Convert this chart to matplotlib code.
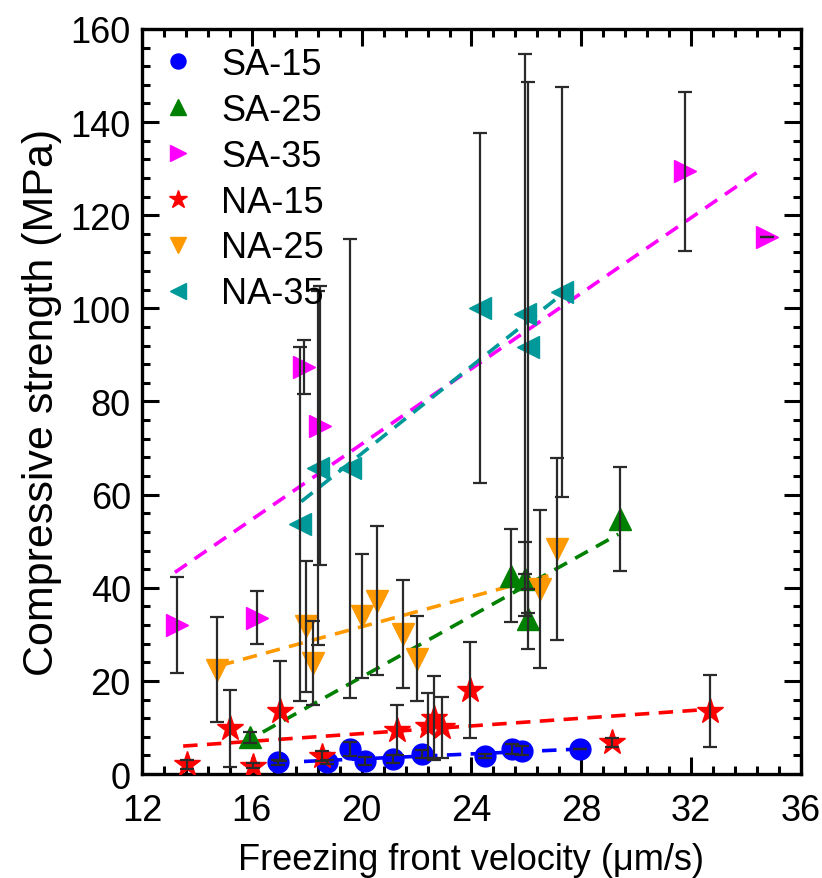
import matplotlib.pyplot as plt
import numpy as np
from matplotlib.lines import Line2D
from matplotlib.ticker import AutoMinorLocator, MultipleLocator

plt.rcParams['font.family'] = ['Liberation Sans', 'DejaVu Sans']

# data: velocity (um/s), strength (MPa), error (MPa)
sa15_x = [16.96, 18.73, 19.57, 20.12, 21.15, 22.2, 24.49, 25.46, 25.83, 27.95]
sa15_y = [2.5, 2.6, 5.4, 2.8, 3.2, 4.3, 3.9, 5.4, 5.0, 5.4]
sa15_e = [0.5, 0.5, 1.5, 0.8, 0.8, 0.8, 0.5, 1.0, 1.0, 0.0]

sa25_x = [15.93, 25.43, 25.95, 26.07, 29.4]
sa25_y = [7.9, 42.6, 41.9, 33.3, 54.8]
sa25_e = [1.2, 10.0, 8.0, 6.5, 11.2]

sa35_x = [13.26, 16.18, 17.9, 18.48, 31.77, 34.75]
sa35_y = [32.0, 33.6, 87.5, 74.8, 129.4, 115.3]
sa35_e = [10.3, 5.6, 5.8, 30.0, 17.0, 0.0]

na15_x = [13.63, 15.2, 16.03, 17.03, 18.54, 21.27, 22.43, 22.63, 22.91, 23.94, 29.1, 32.68]
na15_y = [2.1, 9.8, 1.8, 13.6, 3.9, 9.5, 10.4, 12.0, 10.0, 18.1, 6.8, 13.5]
na15_e = [1.0, 8.3, 0.5, 10.7, 1.0, 5.4, 7.0, 9.0, 6.5, 10.3, 1.0, 7.7]

na25_x = [14.72, 17.96, 18.24, 20.0, 20.57, 21.52, 22.03, 26.49, 27.1]
na25_y = [22.4, 31.7, 23.9, 34.0, 37.2, 30.1, 24.8, 39.7, 48.3]
na25_e = [11.3, 14.0, 9.0, 13.3, 16.0, 11.6, 9.2, 17.0, 19.5]

na35_x = [17.75, 18.42, 19.57, 24.31, 25.95, 26.07, 27.28]
na35_y = [53.7, 65.7, 65.7, 100.0, 98.8, 91.6, 103.5]
na35_e = [38.0, 38.0, 49.3, 37.6, 55.8, 57.0, 44.0]

# linear fit lines, end points
fit_sa15 = ([17.9, 27.7], [2.7, 5.3])
fit_sa25 = ([16.4, 29.35], [9.0, 51.5])
fit_sa35 = ([13.2, 34.4], [43.3, 129.2])
fit_na15 = ([13.5, 32.9], [6.0, 14.0])
fit_na25 = ([14.84, 26.8], [23.3, 42.6])
fit_na35 = ([17.8, 27.5], [58.5, 104.0])

series = [
    ("SA-15", sa15_x, sa15_y, sa15_e, fit_sa15, "#0000ff", "o", 15),
    ("SA-25", sa25_x, sa25_y, sa25_e, fit_sa25, "#008000", "^", 16),
    ("SA-35", sa35_x, sa35_y, sa35_e, fit_sa35, "#ff00ff", ">", 16),
    ("NA-15", na15_x, na15_y, na15_e, fit_na15, "#ff0000", "*", 19),
    ("NA-25", na25_x, na25_y, na25_e, fit_na25, "#ff9900", "v", 16),
    ("NA-35", na35_x, na35_y, na35_e, fit_na35, "#009999", "<", 16),
]

fig = plt.figure(figsize=(8.22, 8.79), dpi=100)
ax = fig.add_axes([0.1727, 0.1183, 0.8018, 0.8476])

handles = []
for name, x, y, e, fit, c, m, ms in series:
    ax.plot(fit[0], fit[1], "--", color=c, lw=2.6, dashes=(4, 2.6), zorder=2)
    ax.plot(x, y, linestyle="none", marker=m, color=c, ms=ms, zorder=3)
    ax.errorbar(x, y, yerr=e, fmt="none", ecolor="#2a2a2a", elinewidth=1.6,
                capsize=5, capthick=1.6, zorder=4)
    handles.append(Line2D([], [], linestyle="none", marker=m, color=c,
                          ms=ms * 0.72, label=name))

ax.set_xlim(12, 36)
ax.set_ylim(0, 160)
ax.xaxis.set_major_locator(MultipleLocator(4))
ax.yaxis.set_major_locator(MultipleLocator(20))
ax.xaxis.set_minor_locator(AutoMinorLocator(5))
ax.yaxis.set_minor_locator(AutoMinorLocator(5))
ax.tick_params(which="both", direction="in", top=True, right=True,
               labelsize=26, width=2.2)
ax.tick_params(which="major", length=12)
ax.tick_params(which="minor", length=6)
ax.tick_params(axis="x", which="major", pad=14)
ax.tick_params(axis="y", which="major", pad=8)
for s in ax.spines.values():
    s.set_linewidth(2.4)

ax.set_xlabel("Freezing front velocity (\u03bcm/s)", fontsize=26, labelpad=10)
ax.set_ylabel("Compressive strength (MPa)", fontsize=31, labelpad=6)

ax.legend(handles=handles, loc="upper left", frameon=False, fontsize=26,
          handletextpad=0.7, labelspacing=0.3, borderaxespad=0.1,
          handlelength=1.0, borderpad=0.4)

fig.savefig("out.png", dpi=100)
